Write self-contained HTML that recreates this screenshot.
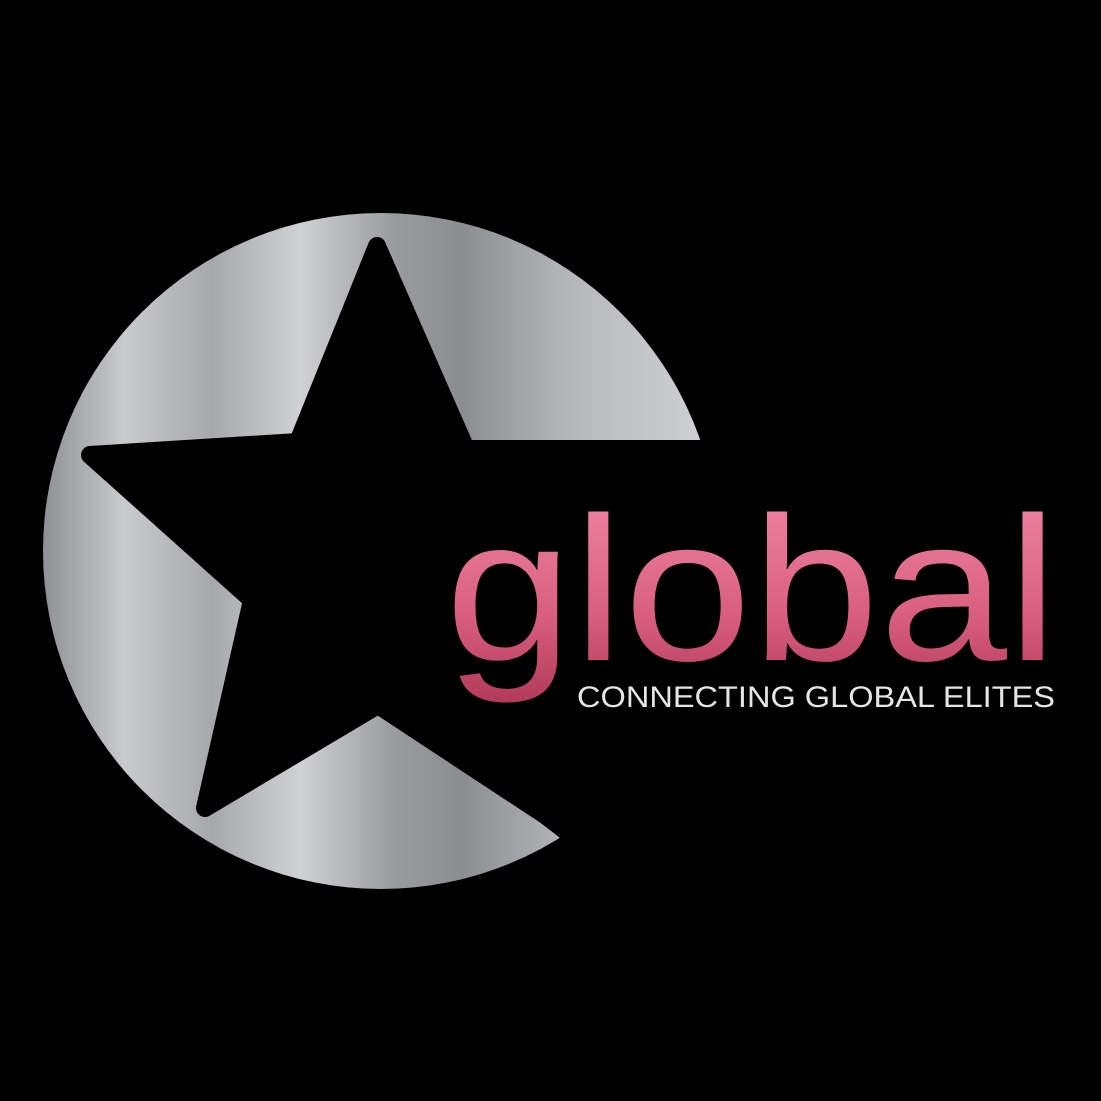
<!DOCTYPE html>
<html><head><meta charset="utf-8"><style>
html,body{margin:0;padding:0;background:#000;}
svg{display:block;}
</style></head><body>
<svg width="1101" height="1101" viewBox="0 0 1101 1101">
<defs>
<linearGradient id="silver" x1="0" y1="0" x2="1" y2="0">
<stop offset="0" stop-color="#8f9093"/>
<stop offset="0.12" stop-color="#c9cacc"/>
<stop offset="0.25" stop-color="#a7a8ab"/>
<stop offset="0.38" stop-color="#d0d1d3"/>
<stop offset="0.52" stop-color="#9a9b9e"/>
<stop offset="0.62" stop-color="#8c8d90"/>
<stop offset="0.78" stop-color="#b6b7ba"/>
<stop offset="1" stop-color="#d2d3d5"/>
</linearGradient>
<linearGradient id="pink" x1="0" y1="0" x2="0" y2="1">
<stop offset="0" stop-color="#f08aa8"/>
<stop offset="0.6" stop-color="#d9607e"/>
<stop offset="1" stop-color="#b03a58"/>
</linearGradient>
</defs>
<rect width="1101" height="1101" fill="#000"/>
<circle cx="381" cy="551" r="338" fill="url(#silver)"/>
<path fill="#000" stroke="#000" stroke-width="18" stroke-linejoin="round"
 d="M377,246 L466,449 L820,449 L820,900 L600,900 L575,838 L545,815 L378,705 L205,808 L252,600 L90,455 L298,442 Z"/>
<path fill="url(#silver)" d="M528,800 Q560,818 552,832 Q520,850 470,862 L470,800 Z" opacity="0"/>
<text x="445" y="660" font-family="'Liberation Sans',sans-serif" font-size="205" fill="url(#pink)" textLength="613" lengthAdjust="spacingAndGlyphs">global</text>
<text x="577" y="707" font-family="'Liberation Sans',sans-serif" font-size="30" fill="#e6e6e6" textLength="478" lengthAdjust="spacingAndGlyphs">CONNECTING GLOBAL ELITES</text>
</svg>
</body></html>
